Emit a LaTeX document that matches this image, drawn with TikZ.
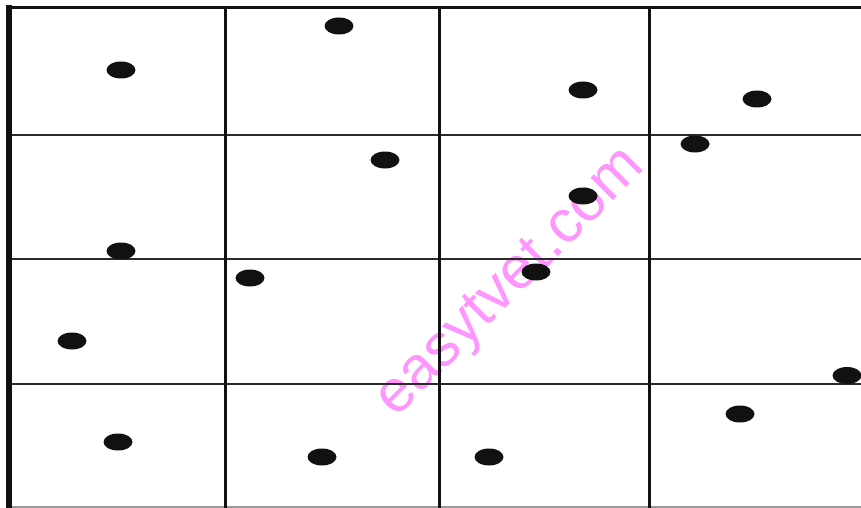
\documentclass[tikz,border=0pt]{standalone}
\usepackage{fontspec}
\setmainfont{Liberation Sans}
\definecolor{ink}{HTML}{111111}
\definecolor{thin}{HTML}{2A2A2A}
\definecolor{wmark}{RGB}{255,150,255}
\begin{document}
\begin{tikzpicture}[x=1pt,y=-1pt,
  dot/.style={fill=ink,draw=none,x radius=14.5,y radius=8.5},
  vline/.style={draw=ink,line width=3pt},
  hline/.style={draw=thin,line width=2pt},
  frame/.style={draw=ink}]
\useasboundingbox[fill=white] (0,0) rectangle (861,508);
% watermark
\node[text=wmark,font=\fontsize{60}{60}\selectfont,rotate=45,inner sep=0] (wm) at (512,284) {easytvet.com};
% horizontal lines
\coordinate (h1l) at (8,135.3); \coordinate (h1r) at (861,135.3);
\coordinate (h2l) at (8,259.3); \coordinate (h2r) at (861,259.3);
\coordinate (h3l) at (8,383.6); \coordinate (h3r) at (861,383.6);
\coordinate (h4l) at (8,507); \coordinate (h4r) at (861,507);
\draw[hline] (h1l) -- (h1r);
\draw[hline] (h2l) -- (h2r);
\draw[hline] (h3l) -- (h3r);
\draw[hline,draw=gray!80] (h4l) -- (h4r);
% vertical lines
\coordinate (v1t) at (225.3,6); \coordinate (v1b) at (225.3,508);
\coordinate (v2t) at (439.6,6); \coordinate (v2b) at (439.6,508);
\coordinate (v3t) at (649.6,6); \coordinate (v3b) at (649.6,508);
\draw[vline] (v1t) -- (v1b);
\draw[vline] (v2t) -- (v2b);
\draw[vline] (v3t) -- (v3b);
% frame
\coordinate (tl) at (6,7.5); \coordinate (tr) at (861,7.5);
\coordinate (lt) at (9.3,5); \coordinate (lb) at (9.3,508);
\draw[frame,line width=3.5pt] (tl) -- (tr);
\draw[frame,line width=6pt] (lt) -- (lb);
% dots
\foreach \n/\px/\py in {d1/121/70,d2/339/26,d3/583/90,d4/757/99,d5/695/144,
  d6/385/160,d7/583/196,d8/121/251,d9/250/278,d10/536/272,d11/72/341,
  d12/847/375.5,d13/740/414,d14/118/442,d15/322/457,d16/489/457}
  \fill[dot] (\px,\py) ellipse[];
\end{tikzpicture}
\end{document}
